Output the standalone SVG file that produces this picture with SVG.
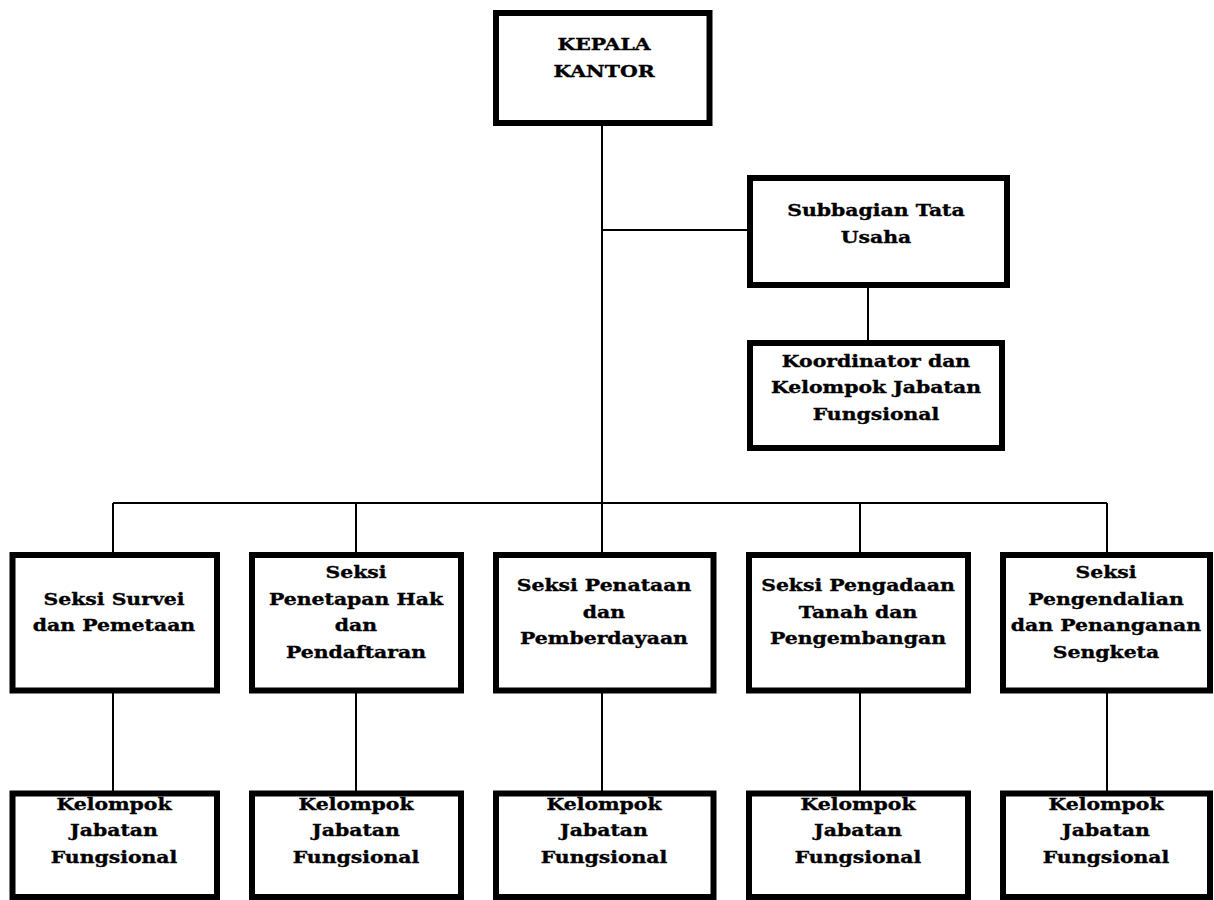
<svg xmlns="http://www.w3.org/2000/svg" width="1214" height="900" viewBox="0 0 1214 900">
<style>
.box{fill:#fff;stroke:#000;stroke-width:6}
.conn{fill:none;stroke:#000;stroke-width:2}
.lbl{font-family:"DejaVu Serif","Liberation Serif",serif;font-weight:bold;font-size:17px;fill:#000;stroke:#000;stroke-width:0.35px;text-anchor:middle}
</style>
<rect width="1214" height="900" fill="#fff"/>
<g id="connectors">
<path class="conn" d="M602,126 V503 M602,230 H747 M868,288 V340 M113,503 H1107 M113,503 V552 M356,503 V552 M602,503 V552 M860,503 V552 M1107,503 V552 M113,693 V791 M356,693 V791 M602,693 V791 M860,693 V791 M1107,693 V791"/>
</g>
<g id="kepala">
<rect class="box" x="496" y="13" width="213.5" height="110"/>
<text class="lbl" transform="translate(604,0) scale(1.2,1)"><tspan x="0" y="50">KEPALA</tspan><tspan x="0" y="77">KANTOR</tspan></text>
</g>
<g id="subbagian">
<rect class="box" x="750" y="178" width="257" height="107"/>
<text class="lbl" transform="translate(876,0) scale(1.2,1)"><tspan x="0" y="216">Subbagian Tata</tspan><tspan x="0" y="243">Usaha</tspan></text>
</g>
<g id="koordinator">
<rect class="box" x="750" y="343" width="252" height="105"/>
<text class="lbl" transform="translate(876,0) scale(1.2,1)"><tspan x="0" y="367">Koordinator dan</tspan><tspan x="0" y="393.5">Kelompok Jabatan</tspan><tspan x="0" y="420">Fungsional</tspan></text>
</g>
<g id="seksi1">
<rect class="box" x="12.5" y="555" width="204.5" height="135.5"/>
<text class="lbl" transform="translate(114,0) scale(1.2,1)"><tspan x="0" y="605">Seksi Survei</tspan><tspan x="0" y="631.5">dan Pemetaan</tspan></text>
</g>
<g id="seksi2">
<rect class="box" x="252" y="555" width="209" height="135.5"/>
<text class="lbl" transform="translate(356,0) scale(1.2,1)"><tspan x="0" y="578.5">Seksi</tspan><tspan x="0" y="605">Penetapan Hak</tspan><tspan x="0" y="631.5">dan</tspan><tspan x="0" y="658">Pendaftaran</tspan></text>
</g>
<g id="seksi3">
<rect class="box" x="496" y="555" width="217.5" height="135.5"/>
<text class="lbl" transform="translate(604,0) scale(1.2,1)"><tspan x="0" y="591.5">Seksi Penataan</tspan><tspan x="0" y="618">dan</tspan><tspan x="0" y="644.5">Pemberdayaan</tspan></text>
</g>
<g id="seksi4">
<rect class="box" x="749" y="555" width="219" height="135.5"/>
<text class="lbl" transform="translate(858,0) scale(1.2,1)"><tspan x="0" y="591.5">Seksi Pengadaan</tspan><tspan x="0" y="618">Tanah dan</tspan><tspan x="0" y="644.5">Pengembangan</tspan></text>
</g>
<g id="seksi5">
<rect class="box" x="1003" y="555" width="207" height="135.5"/>
<text class="lbl" transform="translate(1106,0) scale(1.2,1)"><tspan x="0" y="578.5">Seksi</tspan><tspan x="0" y="605">Pengendalian</tspan><tspan x="0" y="631.5">dan Penanganan</tspan><tspan x="0" y="658">Sengketa</tspan></text>
</g>
<g id="jf1">
<rect class="box" x="12.5" y="793.5" width="204.5" height="103.5"/>
<text class="lbl" transform="translate(114,0) scale(1.2,1)"><tspan x="0" y="810">Kelompok</tspan><tspan x="0" y="836.5">Jabatan</tspan><tspan x="0" y="863">Fungsional</tspan></text>
</g>
<g id="jf2">
<rect class="box" x="252" y="793.5" width="209" height="103.5"/>
<text class="lbl" transform="translate(356,0) scale(1.2,1)"><tspan x="0" y="810">Kelompok</tspan><tspan x="0" y="836.5">Jabatan</tspan><tspan x="0" y="863">Fungsional</tspan></text>
</g>
<g id="jf3">
<rect class="box" x="496" y="793.5" width="217.5" height="103.5"/>
<text class="lbl" transform="translate(604,0) scale(1.2,1)"><tspan x="0" y="810">Kelompok</tspan><tspan x="0" y="836.5">Jabatan</tspan><tspan x="0" y="863">Fungsional</tspan></text>
</g>
<g id="jf4">
<rect class="box" x="749" y="793.5" width="219" height="103.5"/>
<text class="lbl" transform="translate(858,0) scale(1.2,1)"><tspan x="0" y="810">Kelompok</tspan><tspan x="0" y="836.5">Jabatan</tspan><tspan x="0" y="863">Fungsional</tspan></text>
</g>
<g id="jf5">
<rect class="box" x="1003" y="793.5" width="207" height="103.5"/>
<text class="lbl" transform="translate(1106,0) scale(1.2,1)"><tspan x="0" y="810">Kelompok</tspan><tspan x="0" y="836.5">Jabatan</tspan><tspan x="0" y="863">Fungsional</tspan></text>
</g>
</svg>
